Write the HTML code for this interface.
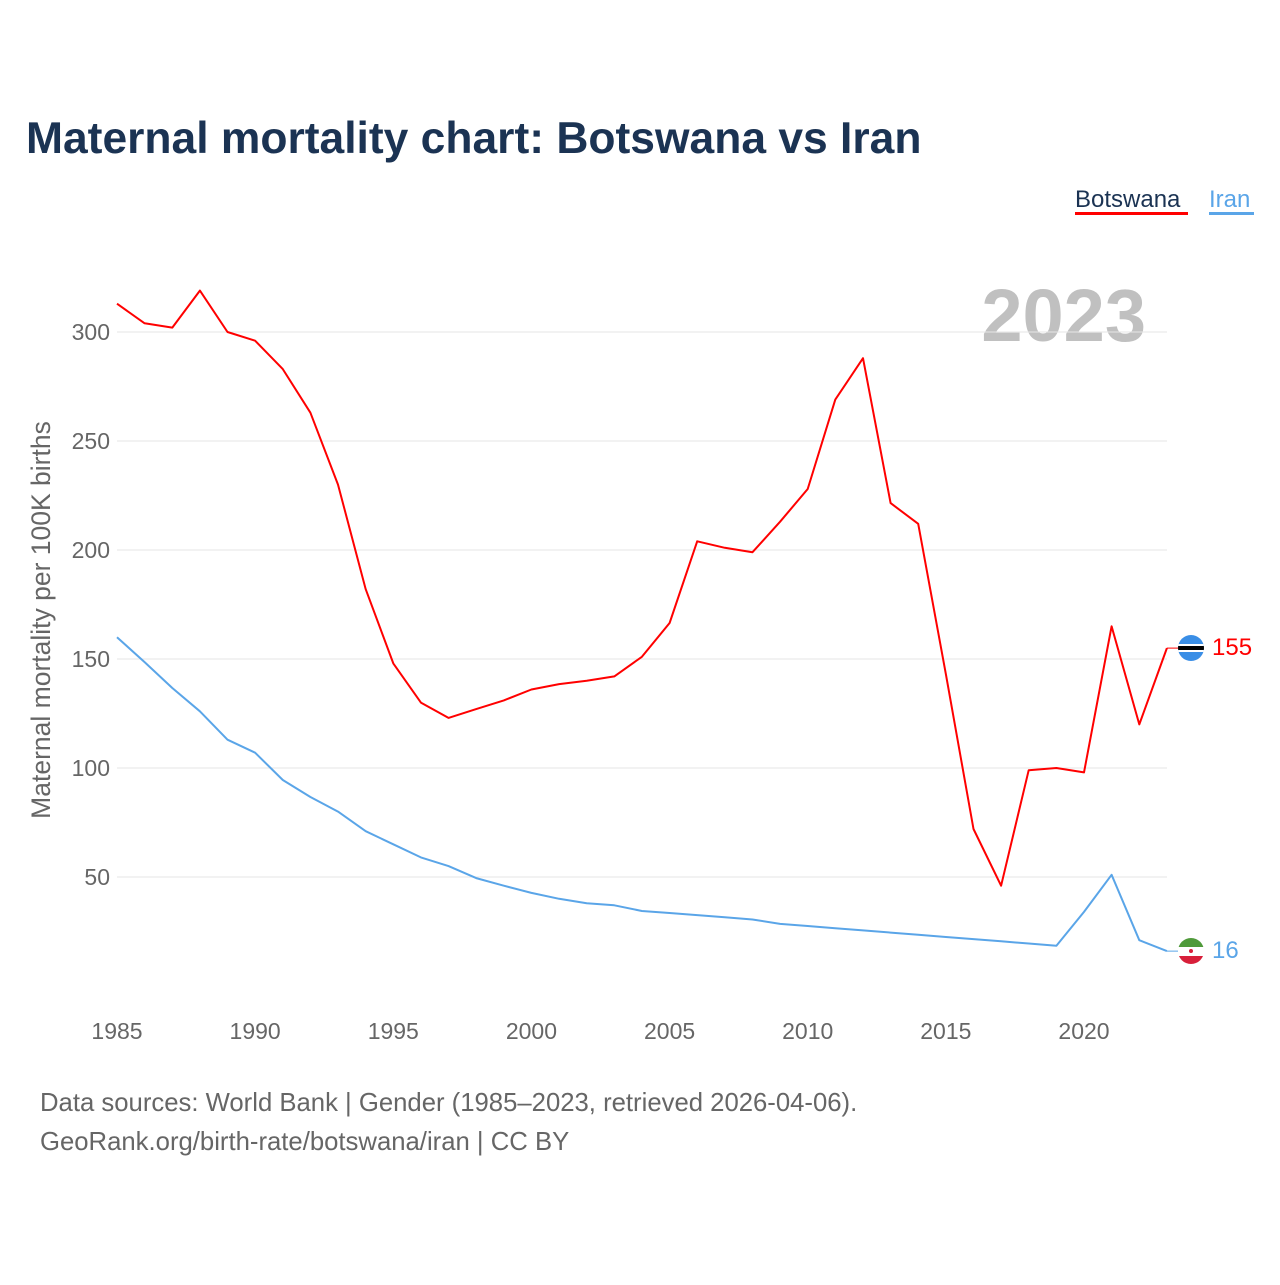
<!DOCTYPE html>
<html><head><meta charset="utf-8"><style>
html,body{margin:0;padding:0;background:#fff;}
body{width:1280px;height:1280px;overflow:hidden;font-family:"Liberation Sans",sans-serif;}
</style></head><body>
<svg width="1280" height="1280" viewBox="0 0 1280 1280">
<text x="26" y="153" font-size="44.4" font-weight="bold" fill="#1b3353">Maternal mortality chart: Botswana vs Iran</text>
<g>
<text x="1075" y="207" font-size="24" fill="#1b3353">Botswana</text>
<rect x="1075" y="212" width="113" height="3" fill="#ff0000"/>
<text x="1209" y="207" font-size="24" fill="#5aa5e8">Iran</text>
<rect x="1209" y="212" width="45" height="3" fill="#5aa5e8"/>
</g>
<text x="1146" y="341" font-size="74" font-weight="bold" fill="#c0c0c0" text-anchor="end">2023</text>
<g id="grid"></g><g id="yt"></g><g id="xt"></g>
<text transform="translate(50,620) rotate(-90)" font-size="26.5" fill="#666" text-anchor="middle">Maternal mortality per 100K births</text>
<g id="series"></g>
<g>
<clipPath id="cb"><circle cx="1191" cy="648" r="13"/></clipPath>
<g clip-path="url(#cb)"><rect x="1178" y="635" width="26" height="26" fill="#3a8ee6"/><rect x="1178" y="644" width="26" height="8" fill="#fff"/><rect x="1178" y="646" width="26" height="4" fill="#000"/></g>
</g>
<g>
<clipPath id="ci"><circle cx="1191" cy="951" r="13"/></clipPath>
<g clip-path="url(#ci)"><rect x="1178" y="938" width="26" height="9" fill="#4f9a3a"/><rect x="1178" y="947" width="26" height="9" fill="#fff"/><rect x="1178" y="956" width="26" height="9" fill="#d81f3a"/><circle cx="1191" cy="951" r="2" fill="#d81f3a"/></g>
</g>
<text x="1212" y="655" font-size="24" fill="#ff0000">155</text>
<text x="1212" y="958" font-size="24" fill="#5aa5e8">16</text>
<text x="40" y="1111" font-size="25.7" fill="#666">Data sources: World Bank | Gender (1985–2023, retrieved 2026-04-06).</text>
<text x="40" y="1150" font-size="25.7" fill="#666">GeoRank.org/birth-rate/botswana/iran | CC BY</text>
</svg>
<script>
const years=[1985,1986,1987,1988,1989,1990,1991,1992,1993,1994,1995,1996,1997,1998,1999,2000,2001,2002,2003,2004,2005,2006,2007,2008,2009,2010,2011,2012,2013,2014,2015,2016,2017,2018,2019,2020,2021,2022,2023];
const botswana=[313,304,302,319,300,296,283,263,230,182,148,130,123,127,131,136,138.5,140,142,151,166.5,204,201,199,213,228,269,288,221.5,212,143,72,46,99,100,98,165,120,155];
const iran=[160,148.6,136.7,126,113,107,94.5,86.7,80,71,65,59,55,49.5,46,42.7,40,38,37,34.4,33.5,32.5,31.5,30.5,28.5,27.5,26.5,25.5,24.5,23.5,22.5,21.5,20.5,19.5,18.5,34,51,21,16];
const yTicks=[50,100,150,200,250,300];
const xTicks=[1985,1990,1995,2000,2005,2010,2015,2020];
const NS="http://www.w3.org/2000/svg";
const xs=y=>117+(y-1985)*(967/35);
const ys=v=>986-v*2.18;
function mk(t,a,p){const e=document.createElementNS(NS,t);for(const k in a)e.setAttribute(k,a[k]);p.appendChild(e);return e;}
const grid=document.getElementById('grid'),yt=document.getElementById('yt'),xt=document.getElementById('xt'),ser=document.getElementById('series');
yTicks.forEach(v=>{
const l=mk('line',{x1:117,x2:1167,y1:ys(v),y2:ys(v),stroke:'#e6e6e6','stroke-width':1},grid);


const t=mk('text',{x:110,y:ys(v)+8,'font-size':23,fill:'#666','text-anchor':'end'},yt);t.textContent=v;


});
xTicks.forEach(v=>{
const t=mk('text',{x:xs(v),y:1039,'font-size':23,fill:'#666','text-anchor':'middle'},xt);t.textContent=v;


});
function line(vals,col,name){
const d=vals.map((v,i)=>(i?'L':'M')+xs(years[i]).toFixed(1)+','+ys(v).toFixed(1)).join('');
const p=mk('path',{d:d,fill:'none',stroke:col,'stroke-width':2,'stroke-linejoin':'round'},ser);


const lv=vals[vals.length-1];
mk('line',{x1:xs(2023),x2:1178,y1:ys(lv),y2:ys(lv),stroke:col,'stroke-width':1},ser);
}
line(botswana,'#ff0000','botswana-line');
line(iran,'#5aa5e8','iran-line');
</script>
</body></html>
